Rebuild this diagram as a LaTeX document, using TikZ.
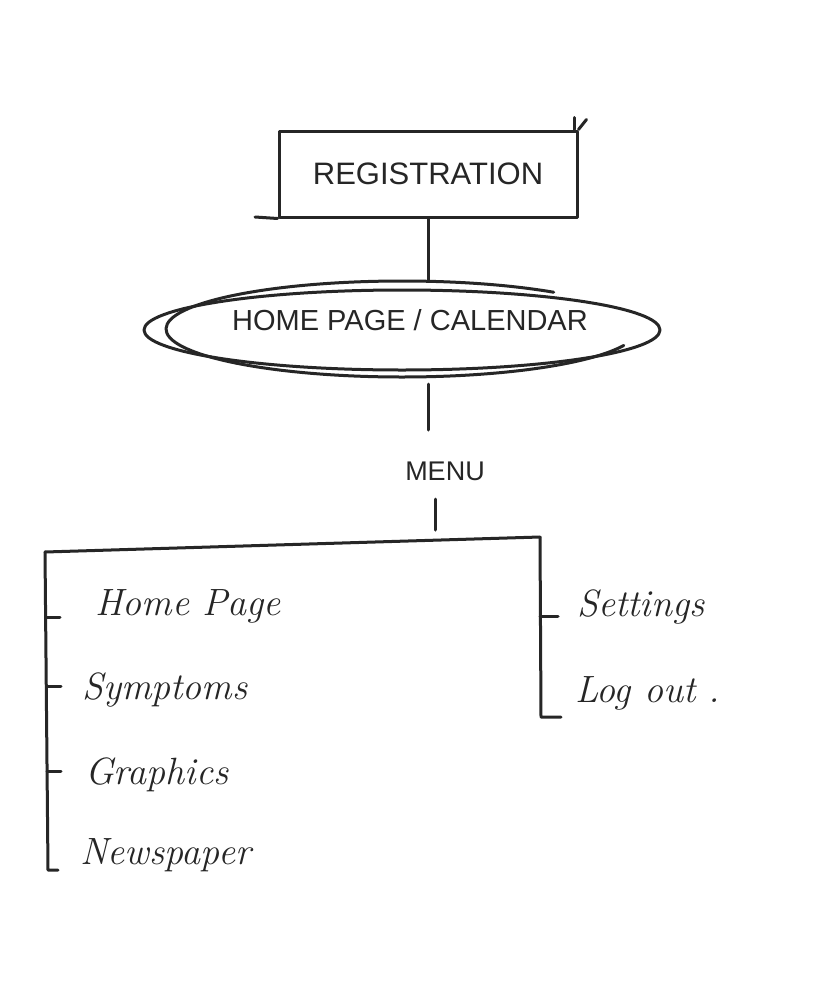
\documentclass[tikz,border=0pt]{standalone}
\usepackage{fontspec}
\setsansfont{Liberation Sans}
\usetikzlibrary{shapes.geometric}
\begin{document}
\begin{tikzpicture}[x=1pt,y=-1pt,
  ink/.style={draw=black!85,line width=3pt,line cap=round,line join=round},
  caps/.style={font=\sffamily\fontsize{#1}{#1}\selectfont,text=black!85},
  hand/.style={font=\itshape\fontsize{38}{38}\selectfont,text=black!85,anchor=west,inner sep=0pt}]
\useasboundingbox (0,0) rectangle (828,993);
\fill[white] (0,0) rectangle (828,993);
% Registration box
\node[ink,rectangle,minimum width=298pt,minimum height=86pt,inner sep=0pt,
      caps=31] (reg) at (428,174) {REGISTRATION};
\draw[ink] (255,217) -- (reg.south west);
\draw[ink] (reg.north east) -- ++(8,-10);
\draw[ink] ([xshift=-4pt]reg.north east) -- ++(0,-12);
% Home page ellipse
\node[ink,ellipse,minimum width=516pt,minimum height=80pt,inner sep=0pt] (home) at (402,330) {};
\node[caps=29] (homet) at (410,320) {HOME PAGE / CALENDAR};
\draw[ink] (402,329) ++(310:236 and 48) arc[start angle=310,end angle=20,x radius=236,y radius=48];
% Connectors
\draw[ink] (reg.south) -- (reg.south |- 0,281);
\coordinate (m1) at (428,384);
\coordinate (m2) at (428,430);
\draw[ink] (m1) -- (m2);
\node[caps=27] (menu) at (445,471) {MENU};
\coordinate (m3) at (435,499);
\coordinate (m4) at (435,530);
\draw[ink] (m3) -- (m4);
% Bracket
\coordinate (bl) at (45,552);
\coordinate (br) at (540,537);
\coordinate (bll) at (48,870);
\coordinate (brl) at (541,717);
\draw[ink] (bl) -- (br);
\draw[ink] (bl) -- (bll) -- ++(10,0);
\draw[ink] (br) -- (brl) -- ++(20,0);
% Ticks
\coordinate (t1) at (46,617); \draw[ink] (t1) -- ++(14,0);
\coordinate (t2) at (47,686); \draw[ink] (t2) -- ++(14,0);
\coordinate (t3) at (47,771); \draw[ink] (t3) -- ++(14,0);
\coordinate (t4) at (540,616); \draw[ink] (t4) -- ++(18,0);
% Items
\node[hand] (i1) at (95,606) {Home Page};
\node[hand] (i2) at (82,690) {Symptoms};
\node[hand] (i3) at (85,775) {Graphics};
\node[hand] (i4) at (80,855) {Newspaper};
\node[hand] (i5) at (577,607) {Settings};
\node[hand] (i6) at (575,693) {Log out .};
\end{tikzpicture}
\end{document}
